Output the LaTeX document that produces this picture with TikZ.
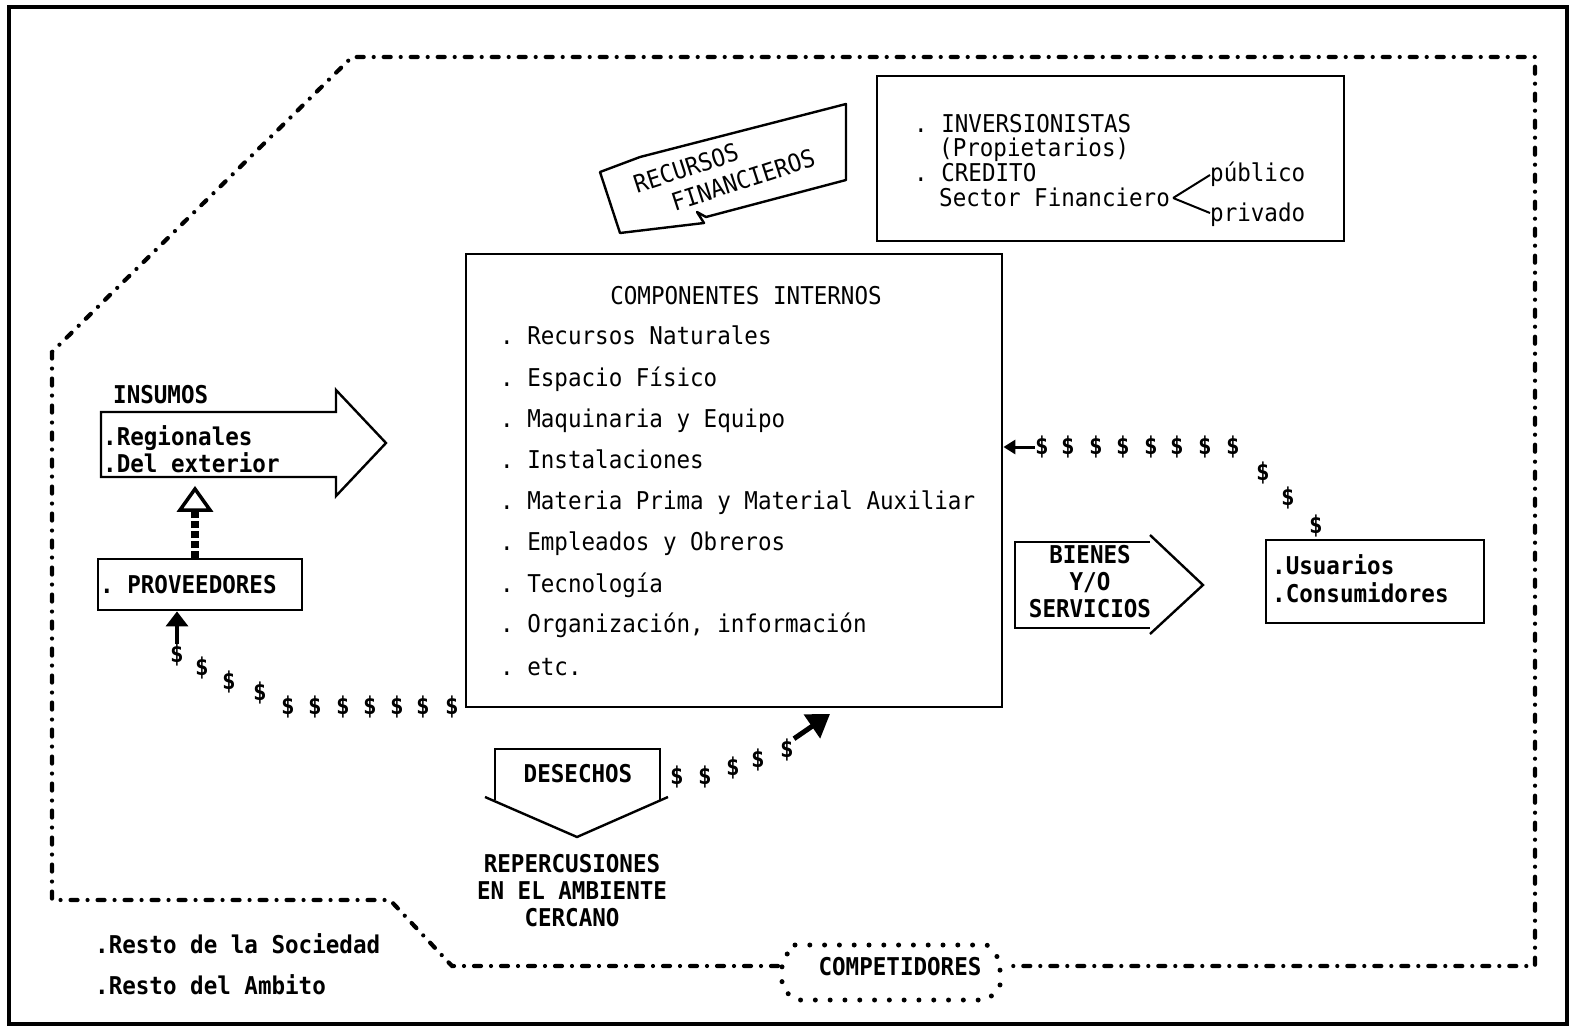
\documentclass[tikz,border=0pt]{standalone}
\usepackage{fontspec}
\setmonofont[FakeStretch=0.92]{DejaVu Sans Mono}
\usetikzlibrary{arrows.meta,calc}
\newcommand\typw{\ttfamily\fontsize{24.5}{27}\selectfont}
\begin{document}
\begin{tikzpicture}[x=1pt,y=-1pt,
  every node/.style={inner sep=0pt,font=\typw},
  lbl/.style={anchor=base west},
  bold/.style={font=\typw\bfseries},
  boxline/.style={line width=2.4pt},
  envline/.style={line width=4.2pt,line cap=round,
    dash pattern=on 7pt off 10pt on 0pt off 10pt},
  dotline/.style={line width=5pt,line cap=round,dash pattern=on 0pt off 14.8pt},
  dol/.style={font=\typw\bfseries},
  flow/.style={line width=3.5pt,-{Triangle[length=15pt,width=22pt]}},
]
\useasboundingbox (0,0) rectangle (1575,1030);

% page frame
\draw[line width=3.5pt] (9,7) rectangle (1567,1024);

% surrounding environment (dash-dot outline)
\draw[envline] (778,966) -- (452,966) -- (390,900) -- (52,900) -- (52,352)
  -- (352,57) -- (1535,57) -- (1535,966) -- (1005,966);

% competitors
\node[bold] (comp) at (900,967) {COMPETIDORES};
\draw[dotline] (795,945) -- (987,945) -- (1000,960) -- (1000,988) -- (987,1000)
  -- (795,1000) -- (782,988) -- (782,960) -- cycle;

% internal components
\node[draw,boxline,anchor=north west,minimum width=536pt,minimum height=453pt] (ci) at (465,253) {};
\node (citit) at (746,296) {COMPONENTES INTERNOS};
\node[lbl] (c1) at (500,344) {. Recursos Naturales};
\node[lbl] (c2) at (500,386) {. Espacio Físico};
\node[lbl] (c3) at (500,427) {. Maquinaria y Equipo};
\node[lbl] (c4) at (500,468) {. Instalaciones};
\node[lbl] (c5) at (500,509) {. Materia Prima y Material Auxiliar};
\node[lbl] (c6) at (500,550) {. Empleados y Obreros};
\node[lbl] (c7) at (500,592) {. Tecnología};
\node[lbl] (c8) at (500,632) {. Organización, información};
\node[lbl] (c9) at (500,675) {. etc.};

% investors and credit
\node[draw,boxline,anchor=north west,minimum width=467pt,minimum height=165pt] (inv) at (876,75) {};
\node[lbl] (i1) at (914,133) {. INVERSIONISTAS};
\node[lbl] (i2) at (939,157) {(Propietarios)};
\node[lbl] (i3) at (914,182) {. CREDITO};
\node[lbl] (sector) at (939,206) {Sector Financiero};
\node[lbl] (pub) at (1210,182) {público};
\node[lbl] (priv) at (1210,222) {privado};
\draw[line width=2pt] ($(sector.base east)+(3,-8)$) -- ($(pub.base west)+(0,-7)$);
\draw[line width=2pt] ($(sector.base east)+(3,-8)$) -- ($(priv.base west)+(0,-9)$);

% financial resources arrow
\draw[boxline,line join=round] (600,172) -- (640,157) -- (846,104) -- (846,180)
  -- (706,217) -- (697,212) -- (704,223) -- (620,233) -- cycle;
\node[rotate=18] (rec1) at (686,168) {RECURSOS};
\node[rotate=18] (rec2) at (743,180) {FINANCIEROS};

% inputs arrow
\draw[boxline,line join=miter] (101,412) -- (336,412) -- (336,390) -- (386,443)
  -- (336,496) -- (336,477) -- (101,477) -- cycle;
\coordinate (insb) at (195,489);
\node[lbl,bold] (ins) at (113,403) {INSUMOS};
\node[lbl,bold] (ins1) at (103,445) {.Regionales};
\node[lbl,bold] (ins2) at (103,472) {.Del exterior};

% suppliers
\node[draw,boxline,anchor=north west,minimum width=204pt,minimum height=51pt] (prov) at (97,558) {};
\node[lbl,bold] (provt) at (100,593) {. PROVEEDORES};
\draw[line width=8pt,dash pattern=on 7pt off 3pt] (prov.north -| insb) -- ($(insb)+(0,21)$);
\draw[line width=3.5pt,line join=miter,fill=white] ($(insb)+(-15,21)$) -- (insb) -- ($(insb)+(15,21)$) -- cycle;

% payments to suppliers
\foreach \x/\y [count=\i] in {177/655,202/668,229/682,260/693,288/707,315/707,343/707,370/707,397/707,423/707,452/707}
  \node[dol] (dp\i) at (\x,\y) {\$};
\draw[flow] (dp1.north) -- (prov.south -| dp1.north);

% goods and services
\draw[boxline,line join=miter] (1150,542) -- (1015,542) -- (1015,628) -- (1150,628);
\draw[boxline,line join=miter] (1150,535) -- (1203,585) -- (1150,634);
\node[bold,align=center] (bs) at (1090,582) {BIENES\\Y/O\\SERVICIOS};

% users
\node[draw,boxline,anchor=north west,minimum width=218pt,minimum height=83pt] (usr) at (1265,539) {};
\node[lbl,bold] (u1) at (1272,574) {.Usuarios};
\node[lbl,bold] (u2) at (1272,602) {.Consumidores};

% payments from users
\foreach \x/\y [count=\i] in {1042/447,1068/447,1096/447,1123/447,1151/447,1177/447,1205/447,1233/447,1263/473,1288/498,1316/526}
  \node[dol] (dc\i) at (\x,\y) {\$};
\draw[line width=3pt,-{Triangle[length=12pt,width=14pt]}] (dc1.west) -- (ci.east |- dc1.west);

% waste
\draw[boxline,line join=miter] (495,800) -- (495,749) -- (660,749) -- (660,800);
\draw[boxline,line join=miter] (485,797) -- (577,837) -- (668,797);
\node[bold] (des) at (578,774) {DESECHOS};
\node[bold,align=center] (rep) at (572,891) {REPERCUSIONES\\EN EL AMBIENTE\\CERCANO};

\foreach \x/\y [count=\i] in {677/777,705/777,733/768,758/760,787/750}
  \node[dol] (dd\i) at (\x,\y) {\$};
\coordinate (dtip) at (830,714);
\draw[line width=5pt,-{Triangle[length=22pt,width=28pt]}] (dd5.north east) -- (dtip);

% rest of society
\node[lbl,bold] (r1) at (95,953) {.Resto de la Sociedad};
\node[lbl,bold] (r2) at (95,994) {.Resto del Ambito};
\end{tikzpicture}
\end{document}
